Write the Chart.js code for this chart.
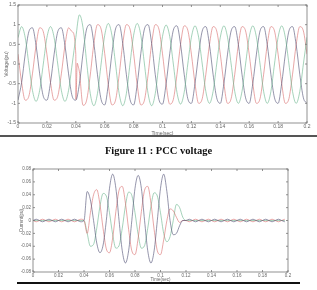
<!DOCTYPE html>
<html>
<head>
<meta charset="utf-8">
<script src="https://cdn.jsdelivr.net/npm/chart.js@4.4.0/dist/chart.umd.min.js"></script>
<style>
  body { margin: 0; background: #fff; width: 317px; height: 290px; position: relative; overflow: hidden; }
  canvas { position: absolute; left: 0; }
  #vChart { top: 0; }
  #iChart { top: 160px; }
  .rule { position: absolute; left: 0; }
  .caption { position: absolute; left: 0; width: 317px; top: 145px; text-align: center;
    font: bold 10.5px "Liberation Serif", "DejaVu Serif", serif; color: #111; }
</style>
</head>
<body>
<canvas id="vChart" width="317" height="137"></canvas>
<div class="rule" style="top:135px;width:317px;height:2px;background:#555"></div>
<div class="caption">Figure 11 : PCC voltage</div>
<canvas id="iChart" width="317" height="122"></canvas>
<div class="rule" style="top:282px;left:17px;width:283px;height:2px;background:#111"></div>
<script>
// shared sample grid, 0 .. 0.2 s every 2.5 ms
var step = 0.0025;
var timeGrid = [];
for (var k = 0; k <= 80; k++) timeGrid.push(+(k * step).toFixed(4));

var xTicks = [0, 0.02, 0.04, 0.06, 0.08, 0.1, 0.12, 0.14, 0.16, 0.18, 0.2];
var vTicks = [-1.5, -1, -0.5, 0, 0.5, 1, 1.5];
var iTicks = [-0.08, -0.06, -0.04, -0.02, 0, 0.02, 0.04, 0.06, 0.08];

// PCC voltage (pu)
var vA = [0.67,0.95,0.67,0,-0.67,-0.95,-0.67,0, 0.67,0.95,0.67,0,-0.67,-0.95,-0.67,0,
  0.67,1.25,0.92,0.05,-0.75,-1.06,-0.75,0, 0.73,1.03,0.73,0,-0.75,-1.06,-0.75,0,
  0.73,1.03,0.73,0,-0.75,-1.06,-0.75,0, 0.7,0.99,0.7,0,-0.72,-1.02,-0.72,0,
  0.68,0.97,0.68,0,-0.7,-1.0,-0.7,0, 0.68,0.97,0.68,0,-0.7,-1.0,-0.7,0,
  0.68,0.97,0.68,0,-0.7,-1.0,-0.7,0, 0.68,0.97,0.68,0,-0.7,-1.0,-0.7,0, 0.68];
var vB = [-0.92,-0.47,0.25,0.82,0.92,0.47,-0.25,-0.82, -0.92,-0.47,0.25,0.82,0.92,0.47,-0.25,-0.82,
  -0.92,-0.5,0.27,0.89,1.0,0.52,-0.27,-0.9, -1.04,-0.52,0.27,0.89,1.0,0.52,-0.27,-0.9,
  -1.04,-0.52,0.27,0.89,1.0,0.52,-0.27,-0.9, -1.02,-0.5,0.26,0.86,0.97,0.5,-0.26,-0.88,
  -1.0,-0.49,0.25,0.84,0.95,0.49,-0.26,-0.86, -1.0,-0.49,0.25,0.84,0.95,0.49,-0.26,-0.86,
  -1.0,-0.49,0.25,0.84,0.95,0.49,-0.26,-0.86, -1.0,-0.49,0.25,0.84,0.95,0.49,-0.26,-0.86, -1.0];
var vC = [0.25,-0.47,-0.92,-0.82,-0.25,0.47,0.92,0.82, 0.25,-0.47,-0.92,-0.82,-0.25,0.47,0.92,0.82,
  0.25,-0.2,-1.05,-0.92,-0.28,0.52,1.0,0.89, 0.27,-0.53,-1.04,-0.92,-0.28,0.52,1.0,0.89,
  0.27,-0.53,-1.04,-0.92,-0.28,0.52,1.0,0.89, 0.26,-0.51,-1.02,-0.9,-0.27,0.5,0.97,0.86,
  0.25,-0.5,-1.0,-0.88,-0.26,0.49,0.95,0.84, 0.25,-0.5,-1.0,-0.88,-0.26,0.49,0.95,0.84,
  0.25,-0.5,-1.0,-0.88,-0.26,0.49,0.95,0.84, 0.25,-0.5,-1.0,-0.88,-0.26,0.49,0.95,0.84, 0.25];
// the notch on phase C right at the disturbance
var notchT = [0.0401, 0.0404, 0.041, 0.0416];
var notchC = [-0.9, -0.6, 0.02, -0.05];

// compensator current
var iA = [0,0.002,0,-0.002,0,0.002,0,-0.002, 0,0.002,0,-0.002,0,0.002,0,-0.002,
  0,0.045,0.032,0,-0.035,-0.05,-0.038,0, 0.05,0.072,0.05,0,-0.047,-0.066,-0.047,0,
  0.05,0.07,0.05,0,-0.047,-0.066,-0.047,0, 0.05,0.072,0.045,0,-0.022,-0.02,-0.008,0,
  0, 0.002,0,-0.002,0,0.002,0,-0.002, 0,0.002,0,-0.002,0,0.002,0,-0.002,
  0,0.002,0,-0.002,0,0.002,0,-0.002, 0,0.002,0,-0.002,0,0.002,0,-0.002];
var iB = [0,-0.002,0,0.002,0,-0.002,0,0.002, 0,-0.002,0,0.002,0,-0.002,0,0.002,
  0,-0.02,0.012,0.04,0.048,0.025,-0.013,-0.044, -0.05,-0.027,0.014,0.047,0.053,0.027,-0.014,-0.047,
  -0.053,-0.027,0.014,0.047,0.053,0.027,-0.014,-0.047, -0.053,-0.03,0,0.018,0.015,0.005,-0.003,0,
  0, -0.002,0,0.002,0,-0.002,0,0.002, 0,-0.002,0,0.002,0,-0.002,0,0.002,
  0,-0.002,0,0.002,0,-0.002,0,0.002, 0,-0.002,0,0.002,0,-0.002,0,0.002];
var iC = [0,0,0,0,0,0,0,0, 0,0,0,0,0,0,0,0,
  0,-0.02,-0.04,-0.037,-0.012,0.022,0.042,0.038, 0.012,-0.022,-0.043,-0.039,-0.012,0.023,0.044,0.039,
  0.012,-0.022,-0.043,-0.039,-0.012,0.022,0.043,0.038, 0.012,-0.02,-0.033,-0.025,0,0.025,0.02,0.005,
  0, 0,0,0,0,0,0,0, 0,0,0,0,0,0,0,0, 0,0,0,0,0,0,0,0, 0,0,0,0,0,0,0,0];

function pts(values, extraT, extraV) {
  var out = timeGrid.map(function (t, i) { return { x: t, y: values[i] }; });
  if (extraT) {
    extraT.forEach(function (t, i) { out.push({ x: t, y: extraV[i] }); });
    out.sort(function (a, b) { return a.x - b.x; });
  }
  return out;
}

function fmt(v) { return String(+v.toFixed(3)); }

// MATLAB style box with inward ticks
var matlabBox = {
  id: 'matlabBox',
  afterDatasetsDraw: function (chart) {
    var ctx = chart.ctx, a = chart.chartArea, sx = chart.scales.x, sy = chart.scales.y;
    ctx.save();
    ctx.strokeStyle = '#777';
    ctx.lineWidth = 0.8;
    ctx.strokeRect(a.left, a.top, a.right - a.left, a.bottom - a.top);
    ctx.beginPath();
    sx.ticks.forEach(function (t) {
      var x = sx.getPixelForValue(t.value);
      ctx.moveTo(x, a.bottom); ctx.lineTo(x, a.bottom - 2);
      ctx.moveTo(x, a.top); ctx.lineTo(x, a.top + 2);
    });
    sy.ticks.forEach(function (t) {
      var y = sy.getPixelForValue(t.value);
      ctx.moveTo(a.left, y); ctx.lineTo(a.left + 2, y);
      ctx.moveTo(a.right, y); ctx.lineTo(a.right - 2, y);
    });
    ctx.stroke();
    ctx.restore();
  }
};

function makeChart(id, sets, yMin, yMax, yTicks, yTitle, o) {
  var tickFont = { family: 'Liberation Sans', size: o.fs };
  return new Chart(document.getElementById(id), {
    type: 'line',
    data: { datasets: sets },
    options: {
      responsive: false,
      animation: false,
      layout: { padding: { top: o.top, right: o.right, left: 0, bottom: 0 } },
      plugins: { legend: { display: false }, tooltip: { enabled: false } },
      elements: { point: { radius: 0 }, line: { borderWidth: 0.6, cubicInterpolationMode: 'monotone' } },
      scales: {
        x: {
          type: 'linear', min: 0, max: 0.2,
          afterBuildTicks: function (s) { s.ticks = xTicks.map(function (v) { return { value: v }; }); },
          afterFit: function (s) { s.height = o.xh; },
          ticks: { font: tickFont, color: '#666', padding: 1, maxRotation: 0, autoSkip: false, callback: fmt },
          grid: { display: false, drawTicks: false },
          border: { display: false },
          title: { display: true, text: 'Time(sec)', font: tickFont, color: '#666', padding: 0 }
        },
        y: {
          min: yMin, max: yMax,
          afterBuildTicks: function (s) { s.ticks = yTicks.map(function (v) { return { value: v }; }); },
          afterFit: function (s) { s.width = o.yw; },
          ticks: { font: tickFont, color: '#666', padding: 2, autoSkip: false, callback: fmt },
          grid: { display: false, drawTicks: false },
          border: { display: false },
          title: { display: true, text: yTitle, font: tickFont, color: '#666', padding: { top: o.tp, bottom: 0 } }
        }
      }
    },
    plugins: [matlabBox]
  });
}

var cA = '#68b48c', cB = '#4e4e72', cC = '#d86c6c';

makeChart('vChart', [
  { data: pts(vA), borderColor: cA },
  { data: pts(vB), borderColor: cB },
  { data: pts(vC, notchT, notchC), borderColor: cC }
], -1.5, 1.5, vTicks, 'Voltage(pu)', { fs: 5, top: 5, right: 10, xh: 14, yw: 18, tp: 4 });

makeChart('iChart', [
  { data: pts(iA), borderColor: cB },
  { data: pts(iB), borderColor: cC },
  { data: pts(iC), borderColor: cA }
], -0.08, 0.08, iTicks, 'Current(pu)', { fs: 4.5, top: 9, right: 29, xh: 10, yw: 33, tp: 19 });
</script>
</body>
</html>
